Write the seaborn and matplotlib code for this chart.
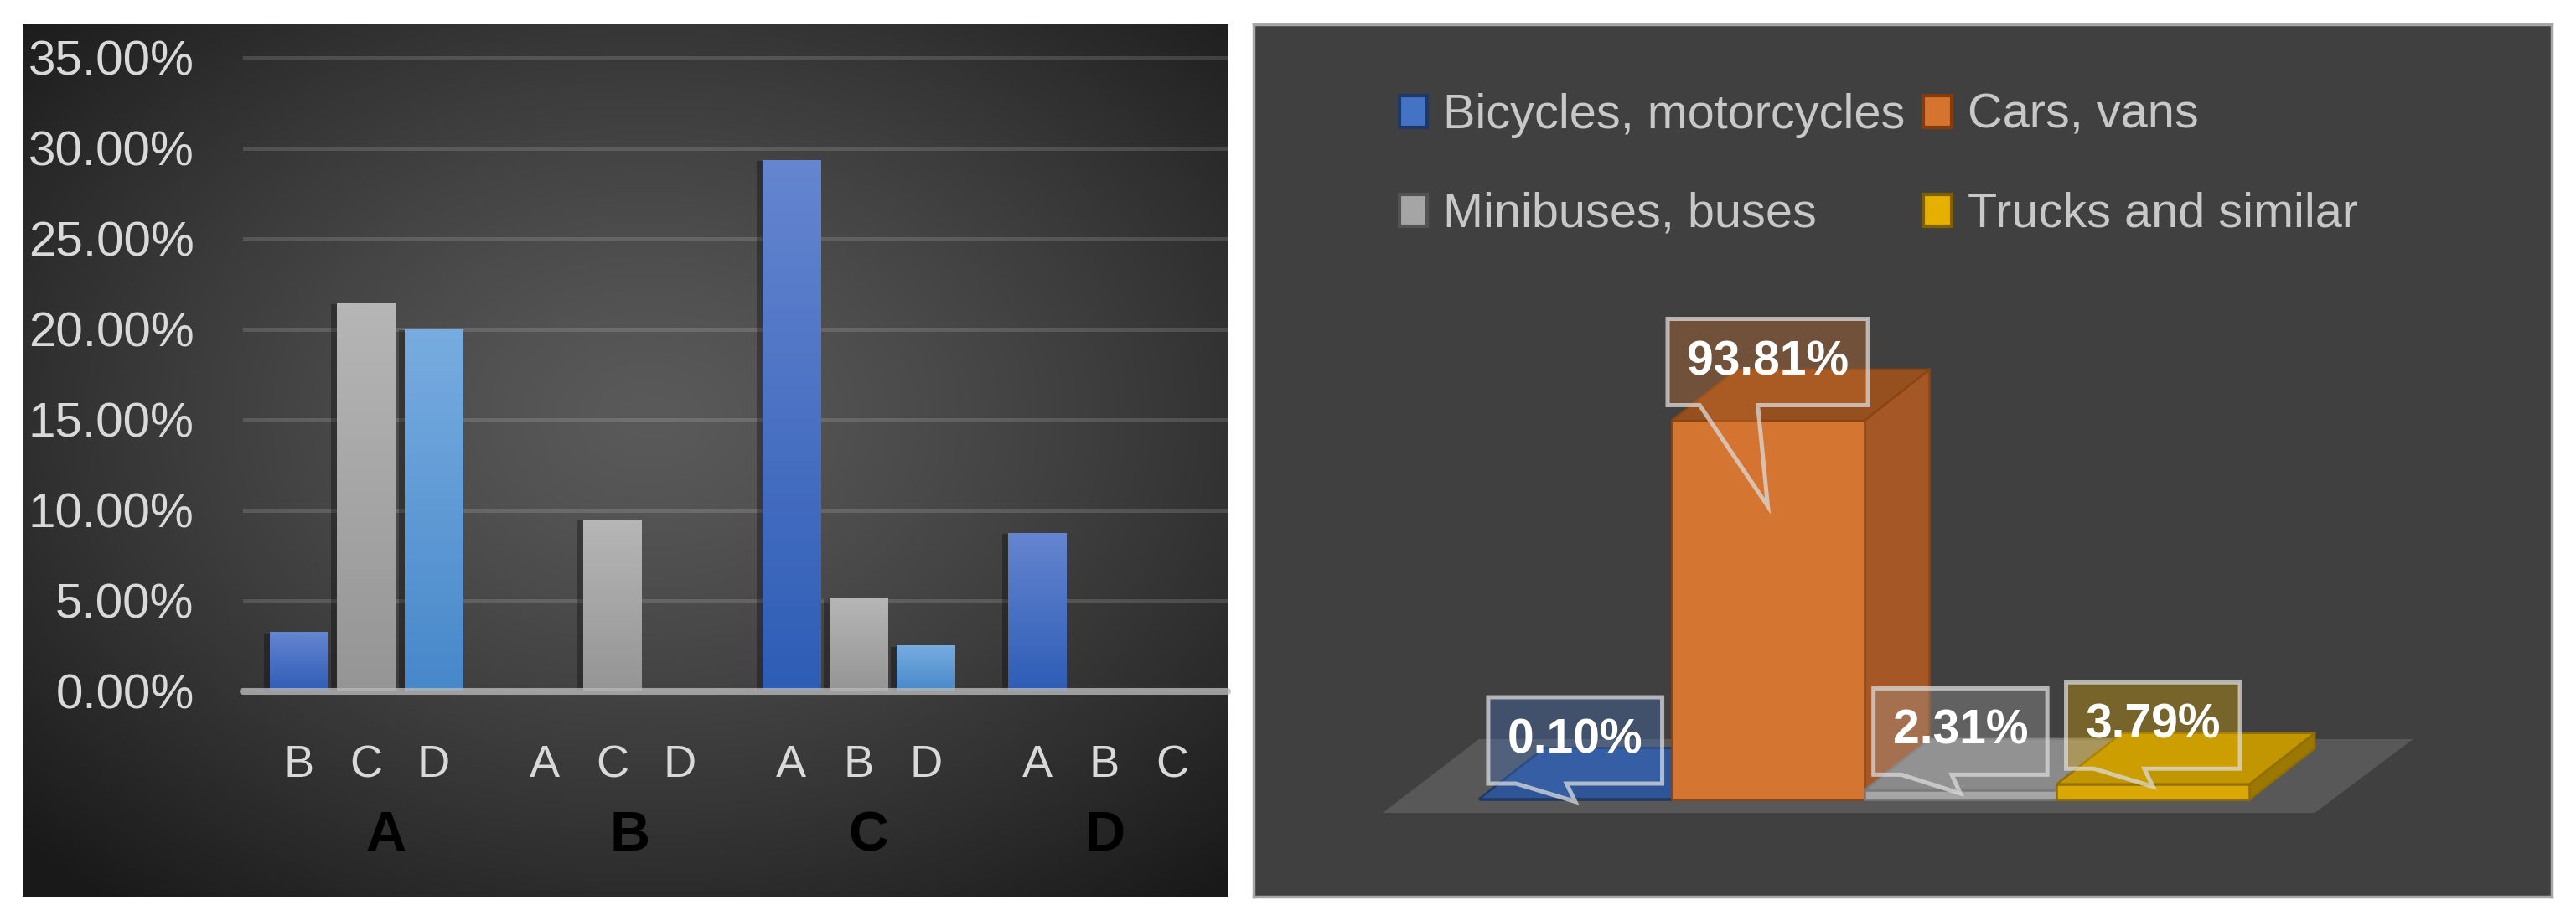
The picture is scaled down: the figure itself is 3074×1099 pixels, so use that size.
import numpy as np
import pandas as pd
import matplotlib
matplotlib.use("Agg")
import matplotlib.pyplot as plt
import seaborn as sns
from matplotlib import font_manager as fm
from matplotlib.patches import Polygon, Patch
import matplotlib.patheffects as pe

# ---------------- data ----------------
groups = ["A", "B", "C", "D"]
slot_names = ["first", "second", "third"]
sub_labels = [["B", "C", "D"], ["A", "C", "D"], ["A", "B", "D"], ["A", "B", "C"]]
slot1_pct = [3.28, 0.0, 29.36, 8.75]
slot2_pct = [21.46, 9.49, 5.18, 0.0]
slot3_pct = [20.00, 0.0, 2.54, 0.0]
y_ticks_pct = [0, 5, 10, 15, 20, 25, 30, 35]

vehicle_types = ["Bicycles, motorcycles", "Cars, vans", "Minibuses, buses", "Trucks and similar"]
vehicle_share_pct = [0.10, 93.81, 2.31, 3.79]

# ---------------- fonts ----------------
avail = {f.name for f in fm.fontManager.ttflist}
def pick(cands):
    for c in cands:
        if c in avail:
            return c
    return "DejaVu Sans"
SANS = pick(["Liberation Sans", "Arial", "DejaVu Sans"])
NARROW = SANS

sns.set_theme(style="white")
plt.rcParams["font.family"] = [SANS, "DejaVu Sans"]

# ---------------- layout (pixels) ----------------
W, H, DPI = 3074, 1099, 100
fig = plt.figure(figsize=(W / DPI, H / DPI), dpi=DPI, facecolor="white")

def frac(x0, y0, x1, y1):
    return [x0 / W, 1 - y1 / H, (x1 - x0) / W, (y1 - y0) / H]

# ======== LEFT PANEL ========
axbg = fig.add_axes(frac(27, 29, 1465, 1070))
ny, nx = 300, 450
yy, xx = np.mgrid[0:1:ny * 1j, 0:1:nx * 1j]
r = np.sqrt(((xx - 0.52) / 0.62) ** 2 + ((yy - 0.45) / 0.62) ** 2)
v = (90 - 54 * np.clip(r, 0, 1.15) ** 1.25) / 255.0
v = np.clip(v, 0, 1)
axbg.imshow(np.dstack([v, v, v]), extent=[0, 1, 0, 1], aspect="auto")
axbg.set_axis_off()

BASE_Y, TOP_Y = 825, 69
PPU_L = (BASE_Y - TOP_Y) / 35.0
axL = fig.add_axes(frac(290, 40, 1465, BASE_Y))
axL.set_facecolor("none")

dfL = pd.DataFrame({
    "group": groups * 3,
    "slot": np.repeat(slot_names, len(groups)),
    "pct": slot1_pct + slot2_pct + slot3_pct,
})
left_colors = ["#4472C4", "#A5A5A5", "#5B9BD5"]
grad_top = ["#6585D0", "#B6B6B6", "#78ACE0"]
grad_bot = ["#2E5DB6", "#959595", "#4788CA"]

sns.barplot(data=dfL, x="group", y="pct", hue="slot", order=groups, hue_order=slot_names,
            palette=left_colors, width=0.82, gap=0.14, saturation=1, linewidth=0,
            legend=False, ax=axL)

ylim_top = (BASE_Y - 40) / PPU_L
for k, cont in enumerate(axL.containers):
    c_top = np.array(matplotlib.colors.to_rgb(grad_top[k]))
    c_bot = np.array(matplotlib.colors.to_rgb(grad_bot[k]))
    t = np.linspace(0, 1, 64)[:, None]
    grad = (c_top[None, :] * (1 - t) + c_bot[None, :] * t)[:, None, :]
    for bar in cont:
        h = bar.get_height()
        x0 = bar.get_x()
        cx = x0 + bar.get_width() / 2
        gi = int(round(cx))
        axL.text(cx, -(913 - BASE_Y) / PPU_L, sub_labels[gi][k], ha="center", va="center",
                 fontsize=39, color="#D9D9D9", family=NARROW, clip_on=False)
        if h <= 0:
            bar.set_visible(False)
            continue
        bar.set_zorder(2)
        bar.set_path_effects([pe.SimplePatchShadow(offset=(-5, -1), shadow_rgbFace="black", alpha=0.3),
                              pe.Normal()])
        im = axL.imshow(grad, extent=[x0, x0 + bar.get_width(), 0, h], aspect="auto",
                        zorder=2.1, origin="upper")
        im.set_clip_path(bar)

GROUP_LABEL_SHIFT_PX = [24, 21, 12, 0]
px_per_cat = (1465 - 290) / 4.0
for i, g in enumerate(groups):
    axL.text(i + GROUP_LABEL_SHIFT_PX[i] / px_per_cat, -(998 - BASE_Y) / PPU_L, g,
             ha="center", va="center", fontsize=48,
             fontweight="bold", color="black", family=NARROW, clip_on=False)

axL.set_xlim(-0.5, 3.5)
axL.set_ylim(0, ylim_top)
axL.set_yticks(y_ticks_pct)
axL.set_yticklabels([f"{t:.2f}%" for t in y_ticks_pct])
for lbl in axL.get_yticklabels():
    lbl.set_family(NARROW)
axL.tick_params(axis="y", length=0, pad=42, labelsize=42, labelcolor="#D9D9D9")
axL.set_xticks([])
axL.set_xlabel("")
axL.set_ylabel("")
axL.yaxis.grid(True, color="white", alpha=0.14, lw=3.6)
axL.xaxis.grid(False)
axL.set_axisbelow(True)
for s in axL.spines.values():
    s.set_visible(False)
axL.axhline(0, color="#B8B8B8", alpha=0.8, lw=5.8, zorder=5, clip_on=False)

# ======== RIGHT PANEL ========
axRbg = fig.add_axes(frac(1496, 29, 3045, 1070))
axRbg.set_facecolor("#404040")
axRbg.set_xticks([]); axRbg.set_yticks([])
for s in axRbg.spines.values():
    s.set_visible(True)
    s.set_color("#A6A6A6")
    s.set_linewidth(2.5)

R_BASE = 954
PPU_R = (954 - 502) / 93.81
R_LEFT, R_RIGHT, R_TOP, R_BOT = 1535, 2914, 330, 1050
PX_CAT = (R_RIGHT - R_LEFT) / 6.0
axR = fig.add_axes(frac(R_LEFT, R_TOP, R_RIGHT, R_BOT))
axR.set_facecolor("none")

front_cols = ["#3A62AE", "#D57532", "#A5A5A5", "#D9A806"]
top_cols = ["#2F5597", "#96501F", "#8A8A8A", "#C29600"]
side_cols = ["#22407A", "#A65726", "#6E6E6E", "#9C7800"]
edge_cols = ["#1F3864", "#8B4513", "#7A7A7A", "#8F6F00"]
legend_face = ["#4472C4", "#D5742F", "#A5A5A5", "#E6B000"]
legend_edge = ["#203864", "#843C0C", "#525252", "#7F6000"]

sns.barplot(x=vehicle_types, y=vehicle_share_pct, hue=vehicle_types, palette=front_cols,
            width=1.0, saturation=1, legend=False, ax=axR, linewidth=0)
axR.set_xlim(-1.5, 4.5)
axR.set_ylim(-(R_BOT - R_BASE) / PPU_R, (R_BASE - R_TOP) / PPU_R)
axR.set_axis_off()

DX = 78 / PX_CAT
DY = 61 / PPU_R

floor = Polygon([(-1.0, -16 / PPU_R), (3.84, -16 / PPU_R), (4.35, 72 / PPU_R), (-0.5, 72 / PPU_R)],
                closed=True, facecolor="#585858", edgecolor="none", zorder=1)
axR.add_patch(floor)

bars = sorted([p for c in axR.containers for p in c], key=lambda p: p.get_x())
for i, bar in enumerate(bars):
    x0, w, h = bar.get_x(), bar.get_width(), bar.get_height()
    z = 3 + 3 * i
    side = Polygon([(x0 + w, 0), (x0 + w, h), (x0 + w + DX, h + DY), (x0 + w + DX, DY)],
                   closed=True, facecolor=side_cols[i], edgecolor=edge_cols[i], lw=1.8, zorder=z)
    top = Polygon([(x0, h), (x0 + w, h), (x0 + w + DX, h + DY), (x0 + DX, h + DY)],
                  closed=True, facecolor=top_cols[i], edgecolor=edge_cols[i], lw=1.8, zorder=z + 1)
    axR.add_patch(side)
    axR.add_patch(top)
    bar.set_edgecolor(edge_cols[i])
    bar.set_linewidth(1.8)
    bar.set_zorder(z + 2)

# callout labels
fig.canvas.draw()
renderer = fig.canvas.get_renderer()
inv = axR.transData.inverted()
LABEL_RISE_PX = 70
LABEL_TIP_DROP_PX = [-3, -102, -4, -3]
BOX_H, PAD = 103, 23
for i, bar in enumerate(bars):
    cx = bar.get_x() + bar.get_width() / 2
    h = bar.get_height()
    px, py = axR.transData.transform((cx, h))
    bcx, bcy = px, py + LABEL_RISE_PX
    tx, ty = inv.transform((bcx, bcy))
    txt = axR.text(tx, ty, f"{vehicle_share_pct[i]:.2f}%", ha="center", va="center",
                   fontsize=41, fontweight="bold", color="white", family=SANS, zorder=51)
    bb = txt.get_window_extent(renderer)
    bw = bb.width + 2 * PAD
    L, R = bcx - bw / 2, bcx + bw / 2
    B, T = bcy - BOX_H / 2, bcy + BOX_H / 2
    tip = (px, py + LABEL_TIP_DROP_PX[i])
    pts_px = [(L, B), (L, T), (R, T), (R, B), (L + 0.45 * bw, B), tip, (L + 0.16 * bw, B)]
    pts = inv.transform(np.array(pts_px))
    fc = matplotlib.colors.to_rgba(legend_face[i], 0.33)
    box = Polygon(pts, closed=True, facecolor=fc, edgecolor=(0.86, 0.86, 0.86, 0.75),
                  lw=3.6, joinstyle="miter", zorder=50)
    axR.add_patch(box)

# legend
order = [0, 2, 1, 3]
handles = [Patch(facecolor=legend_face[i], edgecolor=legend_edge[i], linewidth=3) for i in order]
labels = [vehicle_types[i] for i in order]
fig.legend(handles, labels, loc="upper left", bbox_to_anchor=(1670 / W, 1 - 111 / H),
           frameon=False, ncol=2, prop={"family": SANS, "size": 41.5}, labelcolor="#C8C8C8",
           handlelength=0.58, handleheight=0.63, handletextpad=0.33, columnspacing=0.37,
           labelspacing=1.11, borderpad=0, borderaxespad=0)

fig.savefig("out.png", dpi=DPI, facecolor="white")
